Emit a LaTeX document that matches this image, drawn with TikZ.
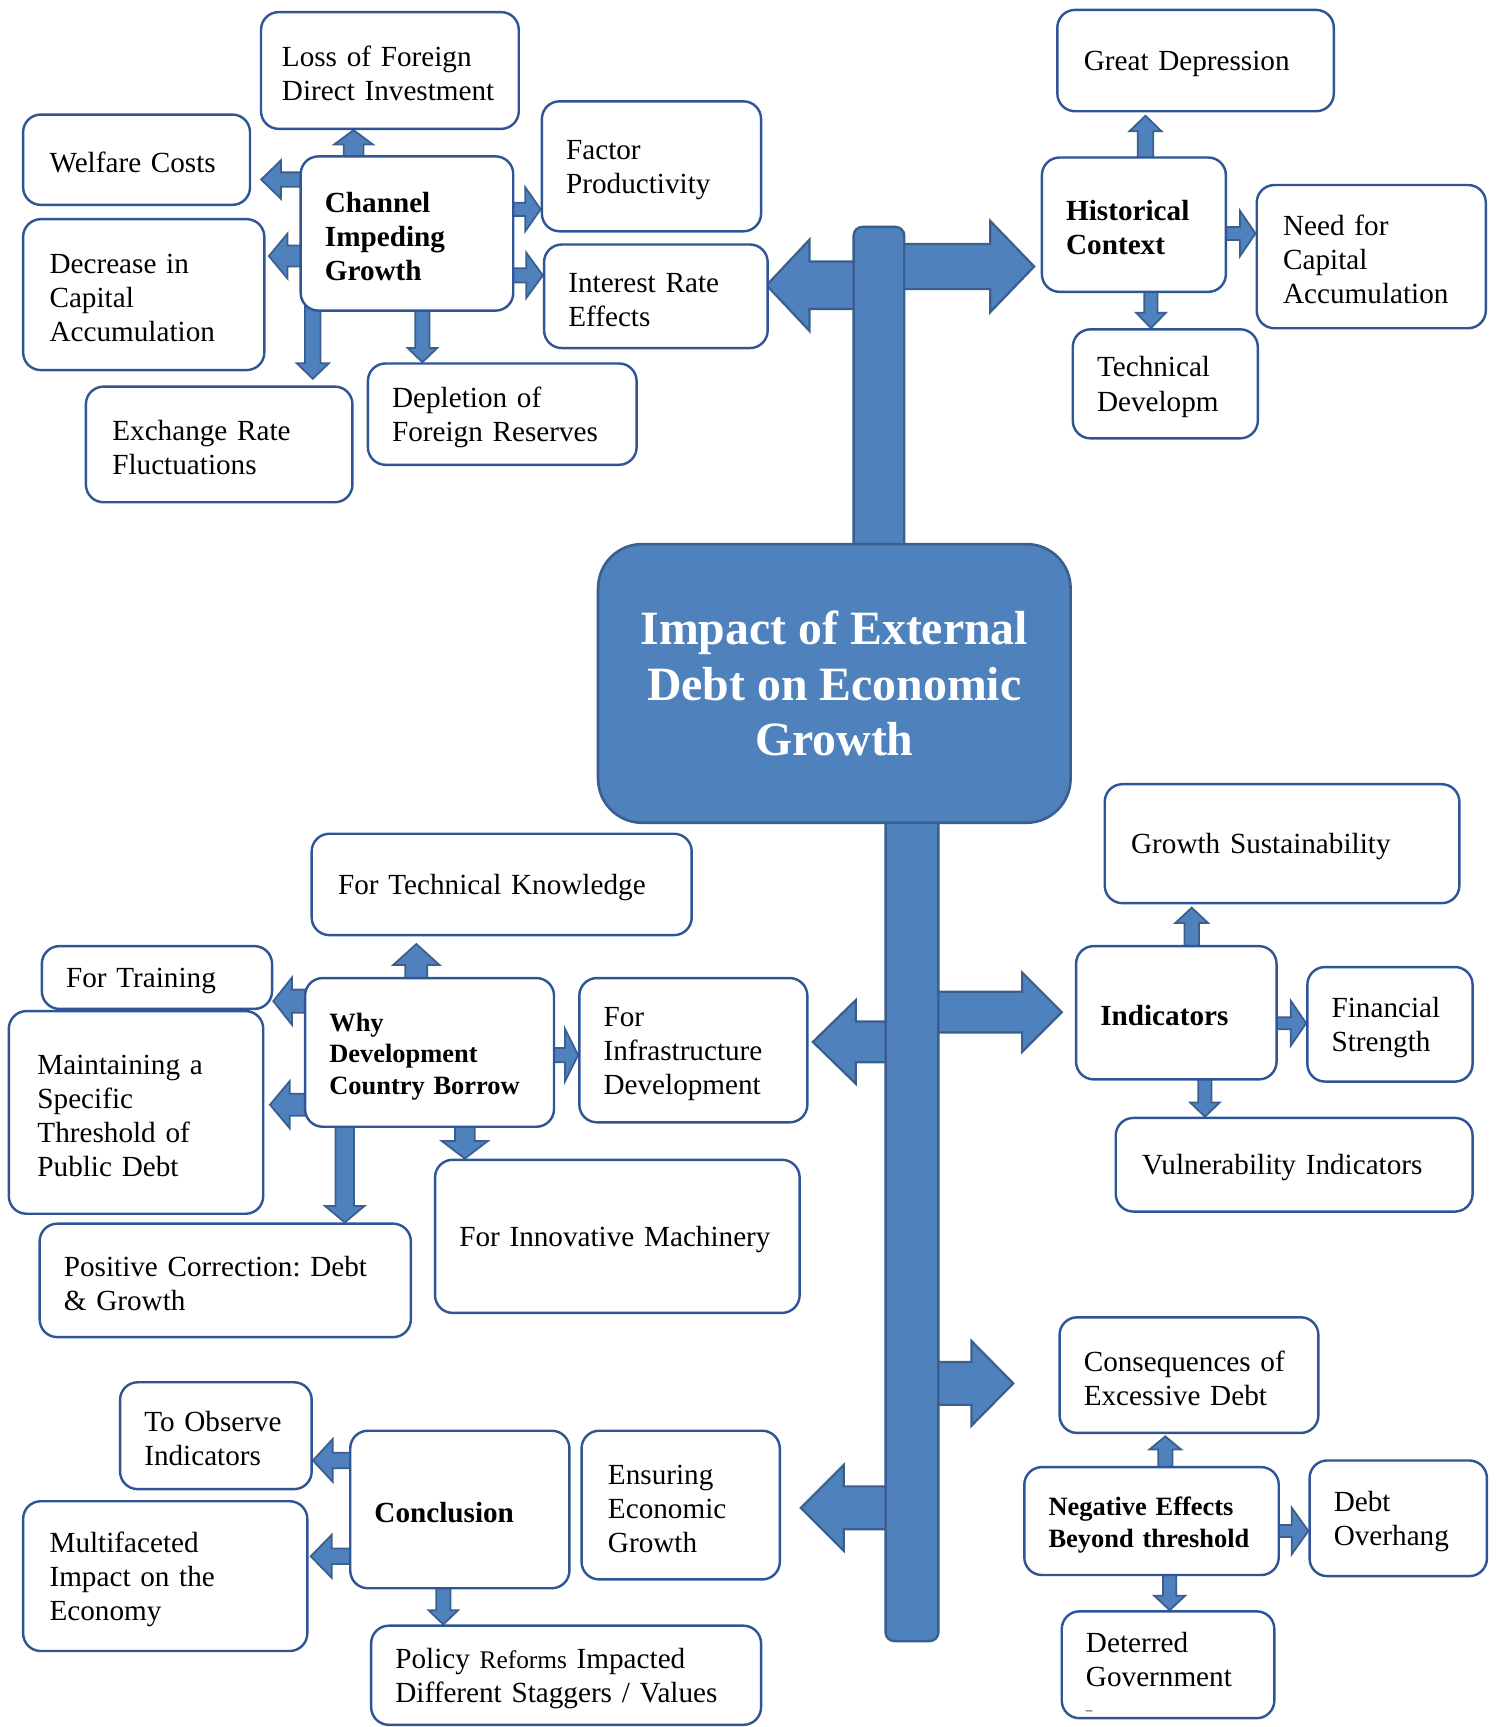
\documentclass[tikz,border=0pt]{standalone}
\usepackage{fontspec}
\setmainfont{Liberation Serif}
\usetikzlibrary{calc,backgrounds}

\definecolor{barfill}{HTML}{4F81BD}
\definecolor{barline}{HTML}{3A5F8E}
\definecolor{boxline}{HTML}{2F5597}

% block arrow: [style] {from} {to} {shaft half width} {head half width} {head length}
\newcommand{\fatarrow}[6][]{%
  \filldraw[blockarrow,#1] ($(#2)!#4!90:(#3)$) -- ($(#3)!#6!(#2)!#4!-90:(#2)$)
    -- ($(#3)!#6!(#2)!#5!-90:(#2)$) -- (#3) -- ($(#3)!#6!(#2)!#5!90:(#2)$)
    -- ($(#3)!#6!(#2)!#4!90:(#2)$) -- ($(#2)!#4!-90:(#3)$) -- cycle;}

\tikzset{
  cbox/.style n args={3}{draw=boxline, line width=1.1pt, fill=white, rounded corners=8pt,
    inner xsep=11pt, inner ysep=0pt, align=left, minimum width=#1, minimum height=#2,
    text width=#3, text height=12pt, font=\frenchspacing\fontsize{13.25}{15.5}\selectfont},
  head/.style={font=\bfseries\fontsize{13.25}{15.5}\selectfont},
  smallhead/.style={font=\bfseries\fontsize{12}{14.3}\selectfont},
  spine/.style={draw=barline, fill=barfill, line width=1.1pt, rounded corners=4pt, inner sep=0pt},
  titlebox/.style={draw=barline, fill=barfill, line width=1.2pt, rounded corners=20pt,
    text=white, align=center, font=\bfseries\fontsize{21.7}{25.3}\selectfont},
  blockarrow/.style={fill=barfill, draw=barline, line width=0.8pt},
}

\begin{document}
\begin{tikzpicture}[x=0.5pt, y=-0.5pt]
\useasboundingbox (0,0) rectangle (1359,1568);

% the spine and the title
\node[spine, minimum width=23pt, minimum height=157pt] (spineup) at (798,363) {};
\node[spine, minimum width=24pt, minimum height=385pt] (spinedown) at (828,1105) {};
\node[titlebox, minimum width=214.5pt, minimum height=126.5pt] (title) at (757.5,620.5)
  {Impact of External\\Debt on Economic\\Growth};

\coordinate (tipUR) at (939,242);
\coordinate (tipUL) at (696,259);
\coordinate (tipMR) at (964,919);
\coordinate (tipML) at (738,946);
\coordinate (tipLR) at (920,1256);
\coordinate (tipLL) at (727,1369);

% channel impeding growth
\node[cbox={96.5pt}{70pt}{74.5pt}, head] (channel) at (369.5,212) {Channel\\Impeding\\Growth};
\node[cbox={117pt}{53pt}{98pt}, inner xsep=9.5pt] (lossfdi) at (354,64) {Loss of Foreign\\Direct Investment};
\node[cbox={103pt}{41pt}{79pt}, inner xsep=12pt] (welfare) at (124,145) {Welfare Costs};
\node[cbox={109.5pt}{68.5pt}{85.5pt}, inner xsep=12pt] (decrease) at (130.5,267.5) {Decrease in\\Capital\\Accumulation};
\node[cbox={99.5pt}{59pt}{77.5pt}] (factor) at (591.5,151) {Factor\\Productivity};
\node[cbox={101.5pt}{47pt}{79.5pt}] (interest) at (595.5,269) {Interest Rate\\Effects};
\node[cbox={121pt}{52.5pt}{97pt}, inner xsep=12pt] (exchange) at (199,403.5) {Exchange Rate\\Fluctuations};
\node[cbox={122pt}{46pt}{100pt}] (depletion) at (456,376) {Depletion of\\Foreign Reserves};

% historical context
\node[cbox={83.5pt}{61pt}{61.5pt}, head] (historical) at (1029.5,204) {Historical\\Context};
\node[cbox={125.5pt}{46pt}{101.5pt}, inner xsep=12pt] (greatdep) at (1085.5,55) {Great Depression};
\node[cbox={104pt}{65pt}{80pt}, inner xsep=12pt] (needcap) at (1245,233) {Need for\\Capital\\Accumulation};
\node[cbox={84pt}{49.5pt}{62pt}] (techdev) at (1058,348.5) {Technical\\Developm};

% why development country borrow
\node[cbox={113pt}{67.5pt}{91pt}, smallhead] (why) at (390,955.5) {Why\\Development\\Country Borrow};
\node[cbox={172.5pt}{46pt}{148.5pt}, inner xsep=12pt] (techknow) at (455.5,803) {For Technical Knowledge};
\node[cbox={104.5pt}{28.5pt}{82.5pt}] (training) at (142.5,887.5) {For Training};
\node[cbox={115.5pt}{92pt}{89.5pt}, inner xsep=13pt] (maintain) at (123.5,1010) {Maintaining a\\Specific\\Threshold of\\Public Debt};
\node[cbox={103.5pt}{65.5pt}{81.5pt}] (infra) at (629.5,953.5) {For\\Infrastructure\\Development};
\node[cbox={168.5pt}{51.5pt}{146.5pt}] (positive) at (204.5,1162.5) {Positive Correction: Debt\\\& Growth};
\node[cbox={165.5pt}{69.5pt}{143.5pt}] (innov) at (560.5,1122.5) {For Innovative Machinery};

% indicators
\node[cbox={91pt}{60.5pt}{69pt}, head] (indicators) at (1068,919.5) {Indicators};
\node[cbox={161pt}{54pt}{137pt}, inner xsep=12pt] (growthsus) at (1164,766) {Growth Sustainability};
\node[cbox={75pt}{52pt}{53pt}] (finstr) at (1262,930) {Financial\\Strength};
\node[cbox={162pt}{42.5pt}{138pt}, inner xsep=12pt] (vulner) at (1175,1057.5) {Vulnerability Indicators};

% negative effects
\node[cbox={115.5pt}{49pt}{93.5pt}, smallhead] (negative) at (1045.5,1381) {Negative Effects\\Beyond threshold};
\node[cbox={117.5pt}{52.5pt}{95.5pt}] (conseq) at (1079.5,1248.5) {Consequences of\\Excessive Debt};
\node[cbox={80.5pt}{52.5pt}{58.5pt}] (debtover) at (1269.5,1378.5) {Debt\\Overhang};
\node[cbox={96.5pt}{48.5pt}{74.5pt}, text height=17pt] (deterred) at (1060.5,1511.5)
  {Deterred\\Government\\[-3pt]{\fontsize{6}{6}\selectfont --}};

% conclusion
\node[cbox={99.5pt}{71.5pt}{77.5pt}, head] (conclusion) at (417.5,1370.5) {Conclusion};
\node[cbox={87pt}{48.5pt}{65pt}] (observe) at (196,1303.5) {To Observe\\Indicators};
\node[cbox={129pt}{68pt}{105pt}, inner xsep=12pt] (multi) at (150,1431) {Multifaceted\\Impact on the\\Economy};
\node[cbox={90pt}{67.5pt}{66pt}, inner xsep=12pt] (ensuring) at (618,1366.5) {Ensuring\\Economic\\Growth};
\node[cbox={177pt}{45pt}{155pt}] (policy) at (514,1521)
  {Policy {\fontsize{11.5}{15.5}\selectfont Reforms} Impacted\\Different Staggers / Values};

\begin{pgfonlayer}{background}
% big arrows off the spine
\fatarrow[line width=1pt]{spineup.center |- tipUR}{tipUR}{10.25pt}{20.75pt}{20pt}
\fatarrow[line width=1pt]{spineup.center |- tipUL}{tipUL}{10.75pt}{20.75pt}{19.5pt}
\fatarrow[line width=1pt]{spinedown.center |- tipMR}{tipMR}{9.25pt}{18pt}{18pt}
\fatarrow[line width=1pt]{spinedown.center |- tipML}{tipML}{9.25pt}{19pt}{19.5pt}
\fatarrow[line width=1pt]{spinedown.center |- tipLR}{tipLR}{9.75pt}{19.25pt}{19pt}
\fatarrow[line width=1pt]{spinedown.center |- tipLL}{tipLL}{9.75pt}{19.5pt}{19.5pt}

% channel
\fatarrow{channel.center -| 321,0}{lossfdi.south -| 321,0}{4.5pt}{8.75pt}{6.5pt}
\fatarrow{channel.center |- 0,163}{[xshift=4.5pt]welfare.east |- 0,163}{3.25pt}{8.75pt}{9pt}
\fatarrow{channel.center |- 0,232.5}{[xshift=1.5pt]decrease.east |- 0,232.5}{4.75pt}{10.25pt}{8.5pt}
\fatarrow{channel.center |- 0,190}{factor.west |- 0,190}{3pt}{10pt}{7pt}
\fatarrow{channel.center |- 0,250}{interest.west |- 0,250}{3.25pt}{10.25pt}{7.5pt}
\fatarrow{channel.center -| 284,0}{[yshift=3pt]exchange.north -| 284,0}{3.5pt}{7.25pt}{7pt}
\fatarrow{channel.center -| 383.5,0}{depletion.north -| 383.5,0}{3.25pt}{6.75pt}{6.5pt}

% historical
\fatarrow{historical.center -| 1040,0}{[yshift=-1.5pt]greatdep.south -| 1040,0}{3.5pt}{7.25pt}{7pt}
\fatarrow{historical.center |- 0,212}{needcap.west |- 0,212}{3pt}{10.25pt}{7pt}
\fatarrow{historical.center -| 1045,0}{techdev.north -| 1045,0}{3pt}{6.75pt}{7pt}

% why
\fatarrow{why.center -| 378,0}{[yshift=-3.5pt]techknow.south -| 378,0}{5pt}{10.5pt}{9.5pt}
\fatarrow{why.center |- 0,909}{training.east |- 0,909}{5.25pt}{10.75pt}{8.5pt}
\fatarrow{why.center |- 0,1003}{[xshift=2.5pt]maintain.east |- 0,1003}{5pt}{10.75pt}{9pt}
\fatarrow{why.center |- 0,958}{infra.west |- 0,958}{3.25pt}{12pt}{6pt}
\fatarrow{why.center -| 313,0}{positive.north -| 313,0}{4.25pt}{9pt}{7.5pt}
\fatarrow{why.center -| 422,0}{innov.north -| 422,0}{4.5pt}{10.5pt}{8pt}

% indicators
\fatarrow{indicators.center -| 1082,0}{[yshift=-1.5pt]growthsus.south -| 1082,0}{3.25pt}{7.5pt}{7pt}
\fatarrow{indicators.center |- 0,929}{finstr.west |- 0,929}{2.75pt}{10.25pt}{7pt}
\fatarrow{indicators.center -| 1094,0}{vulner.north -| 1094,0}{3pt}{6.75pt}{6.5pt}

% negative effects
\fatarrow{negative.center -| 1058,0}{[yshift=-1pt]conseq.south -| 1058,0}{3.25pt}{7.25pt}{6pt}
\fatarrow{negative.center |- 0,1390}{debtover.west |- 0,1390}{2.75pt}{10.5pt}{7.5pt}
\fatarrow{negative.center -| 1062,0}{deterred.north -| 1062,0}{3pt}{7pt}{6.5pt}

% conclusion
\fatarrow{conclusion.center |- 0,1326}{observe.east |- 0,1326}{3.5pt}{9.75pt}{9pt}
\fatarrow{conclusion.center |- 0,1413}{[xshift=1pt]multi.east |- 0,1413}{3.5pt}{9.75pt}{9.5pt}
\fatarrow{conclusion.center -| 402.5,0}{policy.north -| 402.5,0}{3.25pt}{6.75pt}{6.5pt}
\end{pgfonlayer}
\end{tikzpicture}
\end{document}
